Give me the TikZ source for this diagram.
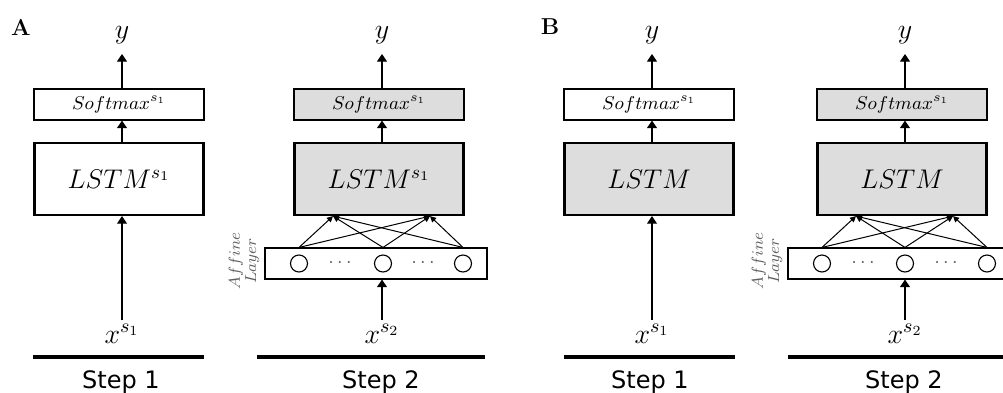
\RequirePackage{fix-cm}
\documentclass[tikz,border=0pt]{standalone}
\usepackage{fontspec}
\newfontfamily\stepfont{DejaVu Sans}
\usetikzlibrary{arrows.meta,calc}
\definecolor{boxgray}{RGB}{221,221,221}
\definecolor{labgray}{RGB}{95,95,95}
\begin{document}
\begin{tikzpicture}[x=0.5pt,y=-0.5pt,
  softbox/.style={draw, line width=0.55pt, minimum width=85pt, minimum height=15.5pt, inner sep=0pt, font=\fontsize{9.3}{11}\selectfont},
  lstmbox/.style={draw, line width=1.1pt, minimum width=84.5pt, minimum height=36pt, inner sep=0pt, font=\fontsize{13.5}{16}\selectfont},
  affbox/.style={draw, line width=0.55pt, minimum width=111pt, minimum height=15.5pt, inner sep=0pt},
  unit/.style={draw, circle, line width=0.55pt, minimum size=8.5pt, inner sep=0pt},
  dotsnode/.style={inner sep=0pt, text=labgray, font=\fontsize{10}{11}\selectfont},
  afflab/.style={rotate=90, align=center, inner sep=0pt, text=labgray, font=\fontsize{8}{7}\selectfont},
  ylab/.style={inner sep=0pt, anchor=south, font=\fontsize{14}{16}\selectfont},
  xlab/.style={inner sep=0pt, anchor=base, font=\fontsize{14}{16}\selectfont},
  steplab/.style={inner sep=0pt, anchor=base, font=\stepfont\fontsize{12}{14}\selectfont},
  panlab/.style={inner sep=0pt, font=\bfseries\fontsize{11.5}{13}\selectfont},
  arr/.style={line width=0.55pt, -{Triangle[width=5pt,length=3.8pt]}},
  sarr/.style={line width=0.5pt, -{Triangle[width=3pt,length=3pt]}},
  bar/.style={line width=1.6pt}
]
\clip (0,0) rectangle (1003,392);

% panel labels
\node[panlab] (labA) at (21,27) {A};
\node[panlab] (labB) at (550,27) {B};

% ===== A, step 1 =====
\node[ylab] (yA1) at (122,44) {$y$};
\node[softbox] (smA1) at (119,104.5) {$Softmax^{s_1}$};
\node[lstmbox] (lsA1) at (119,179) {$LSTM^{s_1}$};
\node[xlab] (xA1) at (122,343) {$x^{s_1}$};
\draw[arr, shorten >=5pt] (yA1 |- smA1.north) -- (yA1.south);
\draw[arr] (yA1 |- lsA1.north) -- (yA1 |- smA1.south);
\draw[arr, shorten <=2pt] (xA1.north) -- (xA1.north |- lsA1.south);
\draw[bar] (33,357) -- (204,357);
\node[steplab] (stA1) at (121,388) {Step 1};

% ===== A, step 2 =====
\node[ylab] (yA2) at (382,44) {$y$};
\node[softbox, fill=boxgray] (smA2) at (379,104.5) {$Softmax^{s_1}$};
\node[lstmbox, fill=boxgray] (lsA2) at (379,179) {$LSTM^{s_1}$};
\node[affbox] (afA2) at (376,263.5) {};
\node[unit] (cA2a) at (299,263.5) {};
\node[unit] (cA2b) at (383,263.5) {};
\node[unit] (cA2c) at (463,263.5) {};
\node[dotsnode] (dA2a) at (340,263.5) {$\cdots$};
\node[dotsnode] (dA2b) at (423,263.5) {$\cdots$};
\node[afflab] (alA2) at (244,261) {$Affine$\\$Layer$};
\coordinate (tA2a) at ([xshift=-23pt]lsA2.south);
\coordinate (tA2b) at ([xshift=25.5pt]lsA2.south);
\foreach \c in {cA2a,cA2b,cA2c}{
  \draw[sarr] (\c |- afA2.north) -- (tA2a);
  \draw[sarr] (\c |- afA2.north) -- (tA2b);
}
\node[xlab] (xA2) at (382,343) {$x^{s_2}$};
\draw[arr, shorten >=5pt] (yA2 |- smA2.north) -- (yA2.south);
\draw[arr] (yA2 |- lsA2.north) -- (yA2 |- smA2.south);
\draw[arr, shorten <=2pt] (xA2.north) -- (xA2.north |- afA2.south);
\draw[bar] (257,357) -- (485,357);
\node[steplab] (stA2) at (381,388) {Step 2};

% ===== B, step 1 =====
\node[ylab] (yB1) at (652,44) {$y$};
\node[softbox] (smB1) at (649,104.5) {$Softmax^{s_1}$};
\node[lstmbox, fill=boxgray] (lsB1) at (649,179) {$LSTM$};
\node[xlab] (xB1) at (652,343) {$x^{s_1}$};
\draw[arr, shorten >=5pt] (yB1 |- smB1.north) -- (yB1.south);
\draw[arr] (yB1 |- lsB1.north) -- (yB1 |- smB1.south);
\draw[arr, shorten <=2pt] (xB1.north) -- (xB1.north |- lsB1.south);
\draw[bar] (564,357) -- (735,357);
\node[steplab] (stB1) at (650,388) {Step 1};

% ===== B, step 2 =====
\node[ylab] (yB2) at (905,44) {$y$};
\node[softbox, fill=boxgray] (smB2) at (902,104.5) {$Softmax^{s_1}$};
\node[lstmbox, fill=boxgray] (lsB2) at (902,179) {$LSTM$};
\node[affbox] (afB2) at (899,263.5) {};
\node[unit] (cB2a) at (822,263.5) {};
\node[unit] (cB2b) at (905,263.5) {};
\node[unit] (cB2c) at (987,263.5) {};
\node[dotsnode] (dB2a) at (863,263.5) {$\cdots$};
\node[dotsnode] (dB2b) at (946,263.5) {$\cdots$};
\node[afflab] (alB2) at (767,261) {$Affine$\\$Layer$};
\coordinate (tB2a) at ([xshift=-23pt]lsB2.south);
\coordinate (tB2b) at ([xshift=25.5pt]lsB2.south);
\foreach \c in {cB2a,cB2b,cB2c}{
  \draw[sarr] (\c |- afB2.north) -- (tB2a);
  \draw[sarr] (\c |- afB2.north) -- (tB2b);
}
\node[xlab] (xB2) at (905,343) {$x^{s_2}$};
\draw[arr, shorten >=5pt] (yB2 |- smB2.north) -- (yB2.south);
\draw[arr] (yB2 |- lsB2.north) -- (yB2 |- smB2.south);
\draw[arr, shorten <=2pt] (xB2.north) -- (xB2.north |- afB2.south);
\draw[bar] (788,357) -- (1010,357);
\node[steplab] (stB2) at (904,388) {Step 2};
\end{tikzpicture}
\end{document}
